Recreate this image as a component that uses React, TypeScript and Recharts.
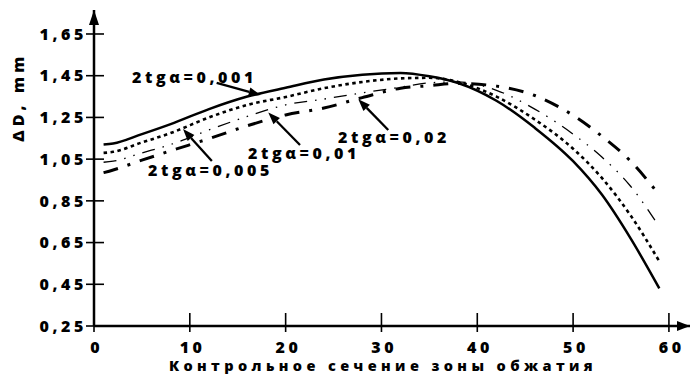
import React from 'react';
import { LineChart, Line, XAxis, YAxis, ReferenceLine, ReferenceDot, Label } from 'recharts';

// Control section positions along the reduction zone
const xs = [1, 2, 5, 8, 12, 16, 20, 24, 28, 32, 35, 38, 42, 46, 50, 53, 56, 59];
// ΔD, mm for each 2tgα
const s001 = [1.12, 1.125, 1.17, 1.218, 1.29, 1.35, 1.392, 1.432, 1.455, 1.463, 1.447, 1.415, 1.33, 1.2, 1.04, 0.88, 0.67, 0.43];
const s005 = [1.08, 1.085, 1.13, 1.175, 1.25, 1.31, 1.348, 1.39, 1.42, 1.437, 1.44, 1.42, 1.35, 1.24, 1.1, 0.96, 0.78, 0.56];
const s01 = [1.035, 1.04, 1.08, 1.12, 1.19, 1.255, 1.31, 1.338, 1.368, 1.395, 1.416, 1.42, 1.38, 1.29, 1.17, 1.06, 0.92, 0.725];
const s02 = [0.985, 0.998, 1.045, 1.09, 1.148, 1.21, 1.262, 1.295, 1.345, 1.39, 1.402, 1.413, 1.4, 1.355, 1.26, 1.16, 1.04, 0.878];

const xTicks = [0, 10, 20, 30, 40, 50, 60];
const yTicks = [0.25, 0.45, 0.65, 0.85, 1.05, 1.25, 1.45, 1.65];

// Annotations (data coordinates)
const annoText = ['2tgα=0,001', '2tgα=0,005', '2tgα=0,01', '2tgα=0,02'];
const annoTextX = [3.97, 5.64, 16.07, 25.46];
const annoTextY = [1.415, 0.97, 1.051, 1.127];
const arrowTailX = [12.8, 12.3, 21.5, 30.71];
const arrowTailY = [1.416, 1.041, 1.118, 1.19];
const arrowTipX = [17.4, 9.29, 18.19, 27.58];
const arrowTipY = [1.357, 1.194, 1.273, 1.337];

const data = xs.map((x, i) => ({ x, a: s001[i], b: s005[i], c: s01[i], d: s02[i] }));

const FONT = '"Open Sans", "DejaVu Sans", sans-serif';
const LS = 3.6;
const textStyle: React.CSSProperties = { fontFamily: FONT, fontWeight: 800, fontSize: 16, letterSpacing: LS };

const YTick = (p: any) => {
  const { x, y, payload } = p;
  return (
    <g>
      <line x1={x - 8} x2={x + 10} y1={y} y2={y} stroke="#000" strokeWidth={1.6} />
      <text x={x - 7} y={y} dy="0.36em" textAnchor="end" fill="#000" style={textStyle}>
        {Number(payload.value).toFixed(2).replace('.', ',')}
      </text>
    </g>
  );
};

const XTick = (p: any) => {
  const { x, y, payload } = p;
  return (
    <g>
      <line x1={x} x2={x} y1={y - 13} y2={y + 6} stroke="#000" strokeWidth={1.6} />
      <text x={x + LS / 2 + 1} y={y + 27} textAnchor="middle" fill="#000" style={textStyle}>
        {payload.value}
      </text>
    </g>
  );
};

const ArrowShape = (p: any) => {
  const { x1, y1, x2, y2 } = p;
  const ang = Math.atan2(y2 - y1, x2 - x1);
  const L = 12;
  const W = 4.5;
  const bx = x2 - L * Math.cos(ang);
  const by = y2 - L * Math.sin(ang);
  const nx = -Math.sin(ang) * W;
  const ny = Math.cos(ang) * W;
  return (
    <g>
      <line x1={x1} y1={y1} x2={bx} y2={by} stroke="#000" strokeWidth={2.3} />
      <polygon points={`${x2},${y2} ${bx + nx},${by + ny} ${bx - nx},${by - ny}`} fill="#000" />
    </g>
  );
};

const makeText = (t: string) => (p: any) => (
  <text x={p.cx} y={p.cy} fill="#000" style={textStyle}>
    {t}
  </text>
);

const XArrowHead = (p: any) => (
  <polygon points={`${p.cx},${p.cy} ${p.cx - 13},${p.cy - 5} ${p.cx - 13},${p.cy + 5}`} fill="#000" />
);
const YArrowHead = (p: any) => (
  <polygon points={`${p.cx},${p.cy} ${p.cx - 5},${p.cy + 15} ${p.cx + 5},${p.cy + 15}`} fill="#000" />
);

const YTitle = (p: any) => {
  const vb = p.viewBox || { x: 0, y: 10 };
  const tx = vb.x + 24;
  const ty = vb.y + 89;
  return (
    <text
      x={0}
      y={0}
      dx={LS / 2}
      transform={`translate(${tx},${ty}) rotate(-90)`}
      textAnchor="middle"
      fill="#000"
      style={{ ...textStyle, letterSpacing: 4.2 }}
    >
      ΔD, mm
    </text>
  );
};

const XTitle = (p: any) => {
  const vb = p.viewBox || { x: 94, y: 326 };
  return (
    <text
      x={vb.x + 289}
      y={vb.y + 45}
      textAnchor="middle"
      fill="#000"
      style={{ ...textStyle, fontSize: 14.5, letterSpacing: 4.4 }}
    >
      Контрольное сечение зоны обжатия
    </text>
  );
};

export default function App() {
  return (
    <div style={{ position: 'absolute', left: 0, top: 0, background: '#fff' }}>
      <LineChart width={690} height={376} data={data} margin={{ top: 10, right: 0, bottom: 0, left: 0 }}>
        <XAxis
          dataKey="x"
          type="number"
          domain={[0, 62.2]}
          ticks={xTicks}
          height={50}
          tickSize={0}
          tickMargin={0}
          tickLine={false}
          axisLine={{ stroke: '#000', strokeWidth: 2.5 }}
          tick={<XTick />}
          interval={0}
        >
          <Label content={<XTitle />} />
        </XAxis>
        <YAxis
          type="number"
          domain={[0.25, 1.765]}
          ticks={yTicks}
          width={94}
          tickSize={0}
          tickMargin={0}
          tickLine={false}
          axisLine={{ stroke: '#000', strokeWidth: 2.5 }}
          tick={<YTick />}
          interval={0}
        >
          <Label content={<YTitle />} />
        </YAxis>
        <Line type="monotone" dataKey="a" stroke="#000" strokeWidth={2.5} dot={false} isAnimationActive={false} />
        <Line type="monotone" dataKey="b" stroke="#000" strokeWidth={2.6} strokeDasharray="3.5 3.5" dot={false} isAnimationActive={false} />
        <Line type="monotone" dataKey="c" stroke="#000" strokeWidth={1.3} strokeDasharray="13 8 1.5 8 1.5 8" dot={false} isAnimationActive={false} />
        <Line type="monotone" dataKey="d" stroke="#000" strokeWidth={3} strokeDasharray="15 10 3 10" dot={false} isAnimationActive={false} />
        {annoText.map((t, i) => (
          <ReferenceLine
            key={'arr' + i}
            segment={[
              { x: arrowTailX[i], y: arrowTailY[i] },
              { x: arrowTipX[i], y: arrowTipY[i] },
            ]}
            ifOverflow="visible"
            shape={ArrowShape}
          />
        ))}
        {annoText.map((t, i) => (
          <ReferenceDot key={'txt' + i} x={annoTextX[i]} y={annoTextY[i]} ifOverflow="visible" shape={makeText(t)} />
        ))}
        <ReferenceDot x={62.2} y={0.25} ifOverflow="visible" shape={XArrowHead} />
        <ReferenceDot x={0} y={1.765} ifOverflow="visible" shape={YArrowHead} />
      </LineChart>
    </div>
  );
}
